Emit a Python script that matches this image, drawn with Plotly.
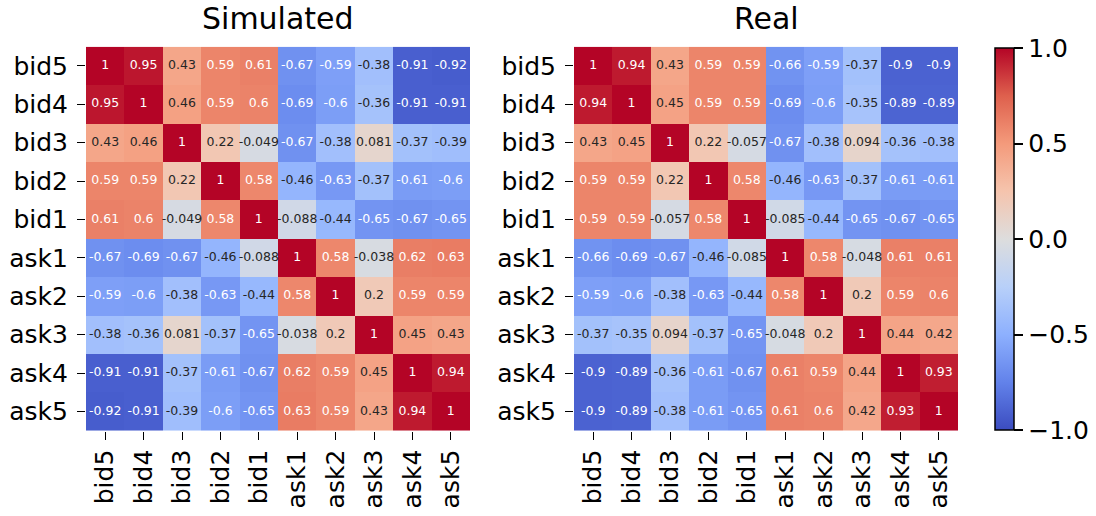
import numpy as np
import plotly.graph_objects as go

levels = ['bid5', 'bid4', 'bid3', 'bid2', 'bid1', 'ask1', 'ask2', 'ask3', 'ask4', 'ask5']

simulated = [
    [1, 0.95, 0.43, 0.59, 0.61, -0.67, -0.59, -0.38, -0.91, -0.92],
    [0.95, 1, 0.46, 0.59, 0.6, -0.69, -0.6, -0.36, -0.91, -0.91],
    [0.43, 0.46, 1, 0.22, -0.049, -0.67, -0.38, 0.081, -0.37, -0.39],
    [0.59, 0.59, 0.22, 1, 0.58, -0.46, -0.63, -0.37, -0.61, -0.6],
    [0.61, 0.6, -0.049, 0.58, 1, -0.088, -0.44, -0.65, -0.67, -0.65],
    [-0.67, -0.69, -0.67, -0.46, -0.088, 1, 0.58, -0.038, 0.62, 0.63],
    [-0.59, -0.6, -0.38, -0.63, -0.44, 0.58, 1, 0.2, 0.59, 0.59],
    [-0.38, -0.36, 0.081, -0.37, -0.65, -0.038, 0.2, 1, 0.45, 0.43],
    [-0.91, -0.91, -0.37, -0.61, -0.67, 0.62, 0.59, 0.45, 1, 0.94],
    [-0.92, -0.91, -0.39, -0.6, -0.65, 0.63, 0.59, 0.43, 0.94, 1],
]

real = [
    [1, 0.94, 0.43, 0.59, 0.59, -0.66, -0.59, -0.37, -0.9, -0.9],
    [0.94, 1, 0.45, 0.59, 0.59, -0.69, -0.6, -0.35, -0.89, -0.89],
    [0.43, 0.45, 1, 0.22, -0.057, -0.67, -0.38, 0.094, -0.36, -0.38],
    [0.59, 0.59, 0.22, 1, 0.58, -0.46, -0.63, -0.37, -0.61, -0.61],
    [0.59, 0.59, -0.057, 0.58, 1, -0.085, -0.44, -0.65, -0.67, -0.65],
    [-0.66, -0.69, -0.67, -0.46, -0.085, 1, 0.58, -0.048, 0.61, 0.61],
    [-0.59, -0.6, -0.38, -0.63, -0.44, 0.58, 1, 0.2, 0.59, 0.6],
    [-0.37, -0.35, 0.094, -0.37, -0.65, -0.048, 0.2, 1, 0.44, 0.42],
    [-0.9, -0.89, -0.36, -0.61, -0.67, 0.61, 0.59, 0.44, 1, 0.93],
    [-0.9, -0.89, -0.38, -0.61, -0.65, 0.61, 0.6, 0.42, 0.93, 1],
]

# matplotlib "coolwarm", sampled
cw_pos = [0, 0.125, 0.25, 0.375, 0.5, 0.625, 0.75, 0.875, 1]
cw_rgb = [(59, 76, 192), (98, 130, 234), (141, 176, 254), (184, 208, 249),
          (221, 221, 221), (245, 196, 173), (244, 154, 123), (222, 96, 77),
          (180, 4, 38)]
coolwarm = [[p, 'rgb(%d,%d,%d)' % c] for p, c in zip(cw_pos, cw_rgb)]


def text_color(v):
    # seaborn picks white or dark text from the cell luminance
    t = (v + 1) / 2
    rgb = [np.interp(t, cw_pos, [c[k] for c in cw_rgb]) / 255 for k in range(3)]
    lin = [c / 12.92 if c <= 0.03928 else ((c + 0.055) / 1.055) ** 2.4 for c in rgb]
    lum = 0.2126 * lin[0] + 0.7152 * lin[1] + 0.0722 * lin[2]
    return 'white' if lum < 0.408 else '#262626'


W, H = 1096, 516
font = 'DejaVu Sans'

fig = go.Figure()
panels = [(simulated, 'Simulated', 'x', 'y', (86, 470)),
          (real, 'Real', 'x2', 'y2', (574, 958))]

for z, name, xa, ya, _ in panels:
    fig.add_trace(go.Heatmap(z=z, x=levels, y=levels, coloraxis='coloraxis',
                             xaxis=xa, yaxis=ya, hoverongaps=False))
    xs, ys, txt, cols = [], [], [], []
    for i, row in enumerate(z):
        for j, v in enumerate(row):
            xs.append(levels[j])
            ys.append(levels[i])
            txt.append(format(v, '.2g'))
            cols.append(text_color(v))
    fig.add_trace(go.Scatter(x=xs, y=ys, text=txt, mode='text', xaxis=xa, yaxis=ya,
                             textfont=dict(family=font, size=12.5, color=cols),
                             showlegend=False, hoverinfo='skip'))

top, bottom = 46.7, 430.7
axis_style = dict(showgrid=False, zeroline=False, showline=False, ticks='outside',
                  ticklen=8, tickwidth=1.2, tickcolor='black',
                  tickfont=dict(family=font, size=25, color='black'))

for k, (z, name, xa, ya, (x0, x1)) in enumerate(panels):
    sfx = '' if k == 0 else str(k + 1)
    fig.update_layout(**{
        'xaxis' + sfx: dict(domain=[x0 / W, x1 / W], anchor=ya, tickangle=-90,
                            categoryorder='array', categoryarray=levels, **axis_style),
        'yaxis' + sfx: dict(domain=[1 - bottom / H, 1 - top / H], anchor=xa,
                            autorange='reversed', ticklabelstandoff=4,
                            categoryorder='array', categoryarray=levels, **axis_style),
    })
    fig.add_annotation(text=name, x=(x0 + x1) / 2 / W, y=1 - 19 / H, xref='paper',
                       yref='paper', showarrow=False, xanchor='center', yanchor='middle',
                       font=dict(family=font, size=30, color='black'))

fig.update_layout(
    width=W, height=H, autosize=False,
    margin=dict(l=0, r=0, t=0, b=0),
    paper_bgcolor='white', plot_bgcolor='white',
    showlegend=False,
    coloraxis=dict(
        colorscale=coolwarm, cmin=-1, cmax=1,
        colorbar=dict(x=995 / W, xanchor='left', y=1 - 48 / H, yanchor='top',
                      lenmode='pixels', len=382, thickness=19, xpad=0, ypad=0,
                      outlinecolor='black', outlinewidth=1.5,
                      ticks='outside', ticklen=9, tickwidth=1.5, tickcolor='black',
                      tickvals=[-1, -0.5, 0, 0.5, 1], tickformat='.1f',
                      tickfont=dict(family=font, size=25, color='black')),
    ),
)

# drop the default page margin so the figure sits at the window's corner
fig.write_html('out.html', config={'displayModeBar': False},
               post_script="document.body.style.margin='0';")
